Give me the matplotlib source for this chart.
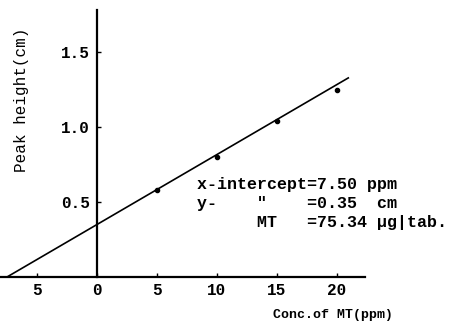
import matplotlib
matplotlib.use("Agg")
import matplotlib.pyplot as plt

# standard addition calibration
conc = [5, 10, 15, 20]
peak = [0.58, 0.80, 1.04, 1.25]
x_intercept = 7.50
y_intercept = 0.35
line_end = 21
xtick_vals = [-5, 0, 5, 10, 15, 20]
xtick_text = ['5', '0', '5', '10', '15', '20']
ytick_vals = [0.5, 1.0, 1.5]
ytick_text = ['0.5', '1.0', '1.5']
info = ['x-intercept=7.50 ppm',
        'y-    "    =0.35  cm',
        '      MT   =75.34 \u00b5g|tab.']

mono = 'Liberation Mono'

fig = plt.figure(figsize=(4.58, 3.31), dpi=100)
ax = fig.add_axes([0, 0, 1, 1])
ax.set_xlim(-97 / 12, (458 - 97) / 12)
ax.set_ylim(-(331 - 277) / 150, 277 / 150)

slope = y_intercept / x_intercept
ax.plot([-x_intercept, line_end], [0, y_intercept + slope * line_end],
        color='black', lw=1.2, solid_capstyle='butt')
ax.plot(conc, peak, 'o', color='black', ms=3)

for s in ['top', 'right']:
    ax.spines[s].set_visible(False)
ax.spines['left'].set_position(('data', 0))
ax.spines['bottom'].set_position(('data', 0))
ax.spines['left'].set_bounds(0, 1.78)
ax.spines['bottom'].set_bounds(-8.1, 22.3)
ax.spines['left'].set_linewidth(1.6)
ax.spines['bottom'].set_linewidth(1.6)

ax.set_xticks(xtick_vals)
ax.set_xticklabels(xtick_text)
ax.set_yticks(ytick_vals)
ax.set_yticklabels(ytick_text)
ax.tick_params(direction='in', length=3, width=1)
ax.tick_params(axis='x', pad=4)
ax.tick_params(axis='y', pad=5)
for lab in ax.get_xticklabels() + ax.get_yticklabels():
    lab.set_fontfamily(mono)
    lab.set_fontweight('bold')
    lab.set_fontsize(11.5)

for i, t in enumerate(info):
    fig.text(197 / 458, 1 - (184 + 19.5 * i) / 331, t, family=mono,
             fontsize=12, fontweight='bold', va='center', ha='left')

fig.text(333 / 458, 1 - 315 / 331, 'Conc.of MT(ppm)', family=mono,
         fontsize=9.5, fontweight='bold', va='center', ha='center')
fig.text(22 / 458, 1 - 100 / 331, 'Peak height(cm)', family=mono,
         fontsize=11.5, rotation=90, va='center', ha='center')

fig.savefig('out.png', dpi=100)
